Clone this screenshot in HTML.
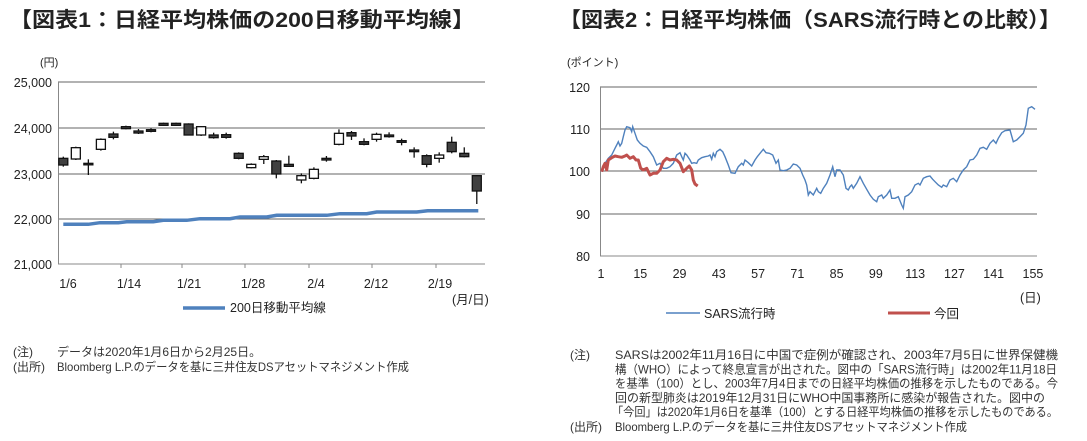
<!DOCTYPE html>
<html><head><meta charset="utf-8"><style>
body{margin:0;background:#fff;width:1087px;height:441px;overflow:hidden;font-family:"Liberation Sans","Noto Sans CJK JP",sans-serif;color:#222}
svg{position:absolute;left:0;top:0}
</style></head><body>
<svg id="s" width="1087" height="441" font-family="Liberation Sans, Noto Sans CJK JP, sans-serif" font-size="12.5" fill="#222"></svg>
<script>
var s=document.getElementById('s'),h='';
function tx(x,y,t,len,fs,extra){return '<text x="'+x+'" y="'+y+'" font-size="'+fs+'"'+(len?' textLength="'+len+'" lengthAdjust="spacingAndGlyphs"':'')+(extra||'')+'>'+t+'</text>';}
h+=tx(9,27,'【図表1：日経平均株価の200日移動平均線】',466,21,' font-weight="bold"');
h+=tx(559,27,'【図表2：日経平均株価（SARS流行時との比較）】',502,21,' font-weight="bold"');
// notes
h+=tx(13,356,'(注)',0,12,' fill="#333"');
h+=tx(57,356,'データは2020年1月6日から2月25日。',0,12,' fill="#333"');
h+=tx(13,371,'(出所)',0,12,' fill="#333"');
h+=tx(57,371,'Bloomberg L.P.のデータを基に三井住友DSアセットマネジメント作成',352,12,' fill="#333"');
h+=tx(570,359,'(注)',0,12,' fill="#333"');
var nl=[['SARSは2002年11月16日に中国で症例が確認され、2003年7月5日に世界保健機',615,443],
['構（WHO）によって終息宣言が出された。図中の「SARS流行時」は2002年11月18日',615,442],
['を基準（100）とし、2003年7月4日までの日経平均株価の推移を示したものである。今',615,443],
['回の新型肺炎は2019年12月31日にWHO中国事務所に感染が報告された。図中の',615,430],
['「今回」は2020年1月6日を基準（100）とする日経平均株価の推移を示したものである。',612,446]];
nl.forEach(function(l,i){h+=tx(l[1],359+i*14.3,l[0],l[2],12,' fill="#333"')});
h+=tx(570,431,'(出所)',0,12,' fill="#333"');
h+=tx(615,431,'Bloomberg L.P.のデータを基に三井住友DSアセットマネジメント作成',352,12,' fill="#333"');
// left chart
var ys=[82,128,174,219,264],lb=['25,000','24,000','23,000','22,000','21,000'];
for(var i=0;i<5;i++){h+='<line x1="58" x2="485" y1="'+ys[i]+'" y2="'+ys[i]+'" stroke="'+(i==4?'#888':'#666')+'" stroke-width="1"/>';h+='<text x="52" y="'+(ys[i]+5)+'" text-anchor="end">'+lb[i]+'</text>';}
h+='<line x1="58.5" x2="58.5" y1="82" y2="264" stroke="#888"/>';
h+='<text x="40" y="66" font-size="11">(円)</text>';
var xl=[['1/6',68],['1/14',129],['1/21',189],['1/28',253],['2/4',316],['2/12',376],['2/19',440]];
xl.forEach(function(a){h+='<text x="'+a[1]+'" y="288" text-anchor="middle">'+a[0]+'</text>'});
[121,182,245,309,372,436].forEach(function(x){h+='<line x1="'+x+'" x2="'+x+'" y1="264" y2="268" stroke="#888"/>'});
h+='<text x="452" y="304">(月/日)</text>';
var ma=[[190,493],[265,493],[300,488],[355,488],[380,485],[460,485],[490,481],[560,481],[600,476],[690,476],[720,471],[800,471],[830,466],[980,466],[1020,461],[1100,461],[1130,456],[1250,456],[1283,452],[1435,452]];
h+='<polyline fill="none" stroke="#4f81bd" stroke-width="3.5" points="'+ma.map(function(p){return (p[0]/3).toFixed(1)+','+(60+p[1]/3).toFixed(1)}).join(' ')+'"/>';
var c=[[295,315,290,320,1],[263,297,260,300,0],[310,314,298,345,1],[238,268,235,272,0],[222,232,215,238,1],[200,206,197,208,1],[213,219,207,222,1],[209,214,205,217,1],[190,196,188,198,1],[190,196,188,198,1],[192,225,190,226,1],[200,225,198,228,0],[225,233,218,236,1],[224,232,218,236,1],[280,295,277,298,1],[313,323,310,325,0],[290,298,285,312,0],[303,342,300,355,1],[313,319,287,321,1],[347,360,340,370,0],[328,355,322,358,0],[295,300,288,305,1],[220,253,208,256,0],[218,228,213,240,1],[245,253,235,256,1],[223,238,218,245,0],[225,230,217,233,1],[242,247,236,256,1],[270,275,262,293,1],[287,313,283,322,1],[285,295,277,308,0],[247,275,230,280,1],[280,290,262,292,1],[347,393,345,432,1]];
c.forEach(function(d,i){var x=63.3+i*12.53,t=60+d[0]/3,b=60+d[1]/3;
h+='<line x1="'+x+'" x2="'+x+'" y1="'+(60+d[2]/3)+'" y2="'+(60+d[3]/3)+'" stroke="#111" stroke-width="1.3"/>';
h+='<rect x="'+(x-4.5)+'" y="'+t+'" width="9" height="'+Math.max(b-t,1.5)+'" fill="'+(d[4]?'#404040':'#fff')+'" stroke="#111" stroke-width="1.3"/>';});
h+='<line x1="183" x2="225" y1="308" y2="308" stroke="#4f81bd" stroke-width="3.5"/><text x="230" y="312">200日移動平均線</text>';
// right chart
var ry=[87,129,171,214,256],rl=['120','110','100','90','80'];
for(i=0;i<5;i++){h+='<line x1="600" x2="1037" y1="'+ry[i]+'" y2="'+ry[i]+'" stroke="'+(i==4?'#888':'#666')+'"/>';h+='<text x="590" y="'+(ry[i]+5)+'" text-anchor="end">'+rl[i]+'</text>';}
h+='<line x1="600.5" x2="600.5" y1="87" y2="256" stroke="#888"/>';
h+='<text x="567" y="66" font-size="11">(ポイント)</text>';
for(i=0;i<12;i++){var v=1+14*i,x=601+(v-1)*2.805;h+='<text x="'+x+'" y="278" text-anchor="middle">'+v+'</text>'}
h+='<text x="1020" y="302">(日)</text>';
var bl=[[155,335],[165,310],[175,295],[185,285],[195,265],[200,255],[205,245],[210,258],[215,250],[220,230],[225,210],[230,200],[240,203],[245,215],[248,200],[255,220],[262,240],[270,250],[280,258],[290,262],[300,275],[310,290],[320,315],[330,310],[340,325],[350,325],[360,320],[370,310],[380,285],[390,278],[395,290],[400,300],[405,280],[410,285],[420,300],[425,310],[432,308],[440,310],[445,300],[455,293],[465,290],[475,288],[480,285],[485,298],[490,280],[495,290],[500,275],[510,268],[518,275],[525,290],[535,315],[543,338],[555,340],[565,320],[575,310],[580,315],[585,300],[595,308],[605,318],[615,300],[622,290],[630,280],[640,268],[648,278],[658,280],[668,285],[678,310],[685,300],[690,330],[700,332],[710,330],[720,325],[730,312],[740,315],[750,325],[758,345],[765,360],[770,375],[775,405],[780,395],[790,405],[800,385],[805,395],[812,400],[820,385],[830,370],[840,345],[848,320],[855,350],[860,330],[870,330],[880,345],[888,385],[895,390],[900,380],[905,375],[910,385],[920,370],[930,350],[940,370],[950,388],[960,405],[970,418],[980,425],[985,410],[995,405],[1000,415],[1010,405],[1020,390],[1025,415],[1035,415],[1045,410],[1055,435],[1060,445],[1065,410],[1075,405],[1085,395],[1095,375],[1105,370],[1110,375],[1120,355],[1130,350],[1140,348],[1148,358],[1155,365],[1165,375],[1175,382],[1180,375],[1190,380],[1200,360],[1210,355],[1220,365],[1230,345],[1240,330],[1250,320],[1260,300],[1270,298],[1280,285],[1290,265],[1300,262],[1310,268],[1320,250],[1330,240],[1338,250],[1345,235],[1355,218],[1365,212],[1380,210],[1390,245],[1400,240],[1410,230],[1420,220],[1428,195],[1435,145],[1445,140],[1455,148]];
var rd=[[155,335],[160,320],[165,310],[170,330],[175,300],[185,293],[195,288],[205,290],[215,292],[225,288],[230,285],[240,295],[250,290],[258,300],[265,300],[272,325],[280,330],[290,325],[300,345],[310,340],[320,340],[330,330],[340,305],[350,295],[360,300],[370,298],[380,300],[390,310],[400,335],[410,325],[418,318],[425,330],[430,360],[435,372],[443,378]];
function pl(a){return a.map(function(p){return (550+p[0]/3).toFixed(1)+','+(60+p[1]/3).toFixed(1)}).join(' ')}
h+='<polyline fill="none" stroke="#4f81bd" stroke-width="1.4" points="'+pl(bl)+'"/>';
h+='<polyline fill="none" stroke="#c0504d" stroke-width="3" stroke-linejoin="round" points="'+pl(rd)+'"/>';
h+='<line x1="666" x2="700" y1="313" y2="313" stroke="#4f81bd" stroke-width="1.5"/><text x="704" y="318">SARS流行時</text>';
h+='<line x1="888" x2="930" y1="313" y2="313" stroke="#c0504d" stroke-width="3"/><text x="934" y="318">今回</text>';
s.innerHTML=h;
</script>
</body></html>
